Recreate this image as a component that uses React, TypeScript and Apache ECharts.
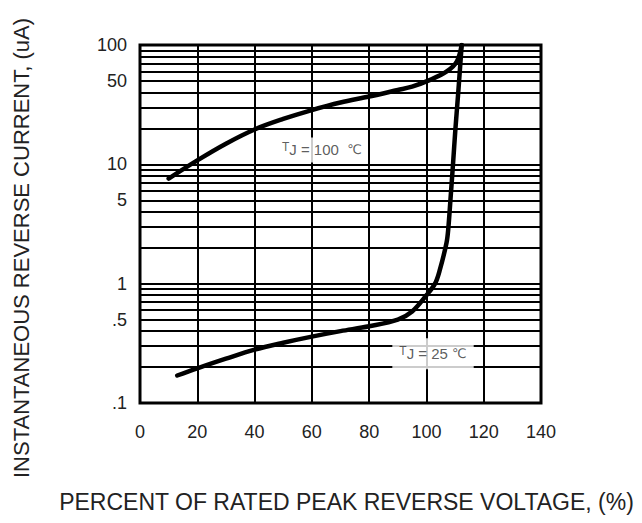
import React, { useEffect, useRef } from "react";
import * as echarts from "echarts";

const xMin = 0;
const xMax = 140;
const xStep = 20;

const yLabelValues = [0.1, 0.5, 1, 5, 10, 50, 100];
const yLabelTexts = [".1", ".5", "1", "5", "10", "50", "100"];
const yGridValues = [
  0.1, 0.2, 0.3, 0.4, 0.5, 0.6, 0.7, 0.8, 0.9,
  1, 2, 3, 4, 5, 6, 7, 8, 9,
  10, 20, 30, 40, 50, 60, 70, 80, 90, 100,
];

const tj100: [number, number][] = [
  [10, 7.6], [20, 10.8], [30, 14.9], [40, 19.6], [50, 24], [60, 28.5],
  [70, 33], [80, 37], [90, 42], [95, 44.8], [101.3, 51], [107.1, 60],
  [110.6, 72.6], [112.3, 100],
];

const tj25: [number, number][] = [
  [13, 0.17], [20, 0.195], [30, 0.235], [40, 0.28], [50, 0.32], [60, 0.36],
  [70, 0.4], [80, 0.44], [90, 0.5], [95, 0.585], [100, 0.8], [103, 1.0],
  [104.7, 1.31], [107, 2.19], [107.6, 2.83], [108.4, 5.1], [109.3, 10.2],
  [110.1, 19.5], [111, 37], [111.7, 62.5], [112.3, 100],
];

const label100Pos: [number, number] = [63.5, 13.2];
const label25Pos: [number, number] = [102.3, 0.259];

const FONT = '"Liberation Sans", Arial, sans-serif';
const TEXT = "#222";

function yLabel(v: number): string {
  for (let i = 0; i < yLabelValues.length; i++) {
    if (Math.abs(Math.log10(v) - Math.log10(yLabelValues[i])) < 0.01) return yLabelTexts[i];
  }
  return "";
}

const richT = {
  t: { fontSize: 12, fontFamily: FONT, color: "#333", padding: [0, 0, 5, 0] },
  j: { fontSize: 15, fontFamily: FONT, color: "#333" },
  n: { fontSize: 15, fontFamily: FONT, color: "#333" },
  c: { fontSize: 13, fontFamily: '"DejaVu Sans", sans-serif', color: "#333" },
};

export default function App() {
  const ref = useRef<HTMLDivElement>(null);
  useEffect(() => {
    const chart = echarts.init(ref.current!, null, { renderer: "svg" });
    const option: any = {
      animation: false,
      backgroundColor: "#fff",
      grid: {
        left: 140,
        right: 101,
        top: 45,
        bottom: 120,
        show: true,
        borderColor: "#000",
        borderWidth: 3,
        backgroundColor: "transparent",
      },
      xAxis: {
        type: "value",
        min: xMin,
        max: xMax,
        interval: xStep,
        name: "PERCENT OF RATED PEAK REVERSE VOLTAGE, (%)",
        nameLocation: "middle",
        nameGap: 87,
        nameMoveOverlap: false,
        nameTextStyle: { fontSize: 23, fontFamily: FONT, color: TEXT, padding: [0, 0, 0, 12] },
        axisLine: { show: false },
        axisTick: { show: false },
        axisLabel: { fontSize: 18, fontFamily: FONT, color: TEXT, margin: 20 },
        splitLine: { show: true, lineStyle: { color: "#000", width: 2 } },
      },
      yAxis: {
        type: "log",
        logBase: 10,
        min: 0.1,
        max: 100,
        name: "INSTANTANEOUS REVERSE CURRENT, (uA)",
        nameLocation: "middle",
        nameGap: 108,
        nameMoveOverlap: false,
        nameTextStyle: { fontSize: 22, fontFamily: FONT, color: TEXT, padding: [0, 48, 0, 0] },
        axisLine: { show: false },
        axisTick: { show: false, customValues: yGridValues },
        axisLabel: {
          fontSize: 18,
          fontFamily: FONT,
          color: TEXT,
          margin: 13,
          customValues: yLabelValues,
          formatter: (v: number) => yLabel(v),
        },
        splitLine: { show: true, lineStyle: { color: "#000", width: 2 } },
      },
      series: [
        {
          type: "line",
          data: tj100,
          showSymbol: false,
          smooth: 0.35,
          lineStyle: { color: "#000", width: 4.5, cap: "round" },
          z: 3,
        },
        {
          type: "line",
          data: tj25,
          showSymbol: false,
          smooth: 0.35,
          lineStyle: { color: "#000", width: 4.5, cap: "round" },
          z: 3,
        },
        {
          type: "scatter",
          symbolSize: 0,
          data: [label100Pos],
          z: 5,
          label: {
            show: true,
            position: "inside",
            formatter: "{t|T}{j|J}{n| = 100  }{c|℃}",
            backgroundColor: "#fff",
            padding: [4, 2, 4, 2],
            rich: richT,
          },
        },
        {
          type: "scatter",
          symbolSize: 0,
          data: [label25Pos],
          z: 5,
          label: {
            show: true,
            position: "inside",
            formatter: "{t|T}{j|J}{n| = 25 }{c|℃}",
            backgroundColor: "#fff",
            padding: [7, 7, 7, 7],
            rich: richT,
          },
        },
      ],
    };
    chart.setOption(option);
    return () => chart.dispose();
  }, []);
  return (
    <div
      ref={ref}
      style={{ position: "fixed", left: 0, top: 0, width: 642, height: 523, background: "#fff" }}
    />
  );
}
